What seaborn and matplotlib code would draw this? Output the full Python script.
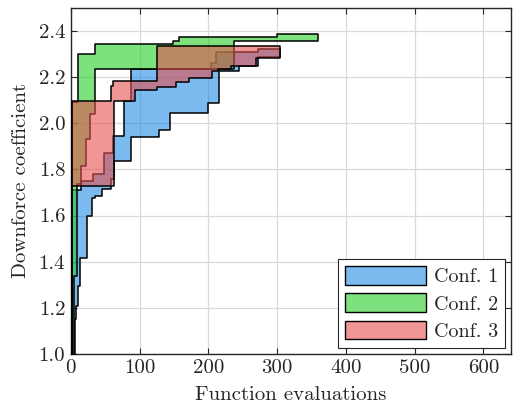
import numpy as np
import matplotlib
matplotlib.use("Agg")
import matplotlib.pyplot as plt
import seaborn as sns
from matplotlib.patches import Patch

# ---- data (step functions: value holds from x onward) ----
labels = ["Conf. 1", "Conf. 2", "Conf. 3"]

blue_up_x = [0, 1, 15, 32, 49, 61.4, 77, 88, 204, 211, 272, 304]
blue_up_y = [0.95, 1.71, 1.749, 1.778, 1.872, 1.944, 2.096, 2.236, 2.259, 2.308, 2.32, 2.32]
blue_lo_x = [0, 6, 8, 10, 14, 24, 31, 35.6, 45.7, 58, 62.8, 87, 128.6, 144.6, 200, 215, 245, 272, 304]
blue_lo_y = [0.95, 1.15, 1.208, 1.294, 1.417, 1.598, 1.677, 1.684, 1.716, 1.76, 1.836, 1.94, 1.97,
             2.045, 2.089, 2.226, 2.25, 2.285, 2.285]

green_up_x = [0, 2, 10.2, 34.6, 149, 158, 300, 360]
green_up_y = [0.95, 2.09, 2.302, 2.345, 2.355, 2.373, 2.385, 2.385]
green_lo_x = [0, 4.5, 9.2, 15, 22.4, 28, 34.6, 238, 360]
green_lo_y = [0.95, 1.336, 1.735, 1.814, 1.93, 2.04, 2.236, 2.358, 2.358]

red_up_x = [0, 1.5, 59, 61, 126, 304]
red_up_y = [0.95, 2.096, 2.16, 2.183, 2.334, 2.334]
red_lo_x = [0, 2, 63, 94, 126, 153, 172, 206, 214, 233, 270, 304]
red_lo_y = [0.95, 1.727, 2.096, 2.146, 2.157, 2.178, 2.197, 2.226, 2.236, 2.25, 2.284, 2.284]

x_ticks = [0, 100, 200, 300, 400, 500, 600]
y_ticks = [1.0, 1.2, 1.4, 1.6, 1.8, 2.0, 2.2, 2.4]

face = [(33/255, 140/255, 227/255, 0.6),
        (38/255, 205/255, 38/255, 0.6),
        (230/255, 80/255, 80/255, 0.6)]

sns.set_style("whitegrid")
plt.rcParams["font.family"] = ["cmr10", "DejaVu Serif"]
plt.rcParams["mathtext.fontset"] = "cm"
plt.rcParams["axes.formatter.use_mathtext"] = True


def step_on_grid(xs, ys, grid):
    idx = np.searchsorted(np.asarray(xs), grid, side="right") - 1
    idx = np.clip(idx, 0, len(ys) - 1)
    return np.asarray(ys)[idx]


fig = plt.figure(figsize=(5.13, 4.13), dpi=100)
ax = fig.add_axes([0.138, 0.143, 0.858, 0.838])

series = [(blue_up_x, blue_up_y, blue_lo_x, blue_lo_y),
          (green_up_x, green_up_y, green_lo_x, green_lo_y),
          (red_up_x, red_up_y, red_lo_x, red_lo_y)]

for (ux, uy, lx, ly), fc in zip(series, face):
    grid = np.unique(np.concatenate([ux, lx]))
    up = step_on_grid(ux, uy, grid)
    lo = step_on_grid(lx, ly, grid)
    ax.fill_between(grid, lo, up, step="post", facecolor=fc,
                    edgecolor="black", linewidth=1.1, zorder=3)

ax.set_xlim(0, 640)
ax.set_ylim(1.0, 2.5)
ax.set_xticks(x_ticks)
ax.set_yticks(y_ticks)
ax.set_xticklabels([str(v) for v in x_ticks])
ax.set_yticklabels([f"{v:.1f}" for v in y_ticks])
ax.grid(True, color="#d9d9d9", linewidth=0.9, zorder=0)
ax.set_axisbelow(True)
for s in ax.spines.values():
    s.set_color("#262626")
    s.set_linewidth(1.0)
ax.tick_params(direction="in", length=4, width=0.8, color="#262626",
               labelsize=15, labelcolor="#262626", top=True, right=True,
               bottom=True, left=True)
ax.tick_params(axis="x", pad=4)
ax.tick_params(axis="y", pad=4)
ax.set_xlabel("Function evaluations", fontsize=15, color="#262626", labelpad=6)
ax.set_ylabel("Downforce coefficient", fontsize=15, color="#262626", labelpad=6)

handles = [Patch(facecolor=fc, edgecolor="black", linewidth=1.0) for fc in face]
leg = ax.legend(handles, labels, loc="lower right", fontsize=14.5, frameon=True,
                fancybox=False, edgecolor="#262626", framealpha=1,
                handlelength=4.0, handleheight=1.05, borderaxespad=0.3,
                labelspacing=0.35, handletextpad=0.4, borderpad=0.35)
leg.get_frame().set_linewidth(0.8)

fig.savefig("out.png", dpi=100)
